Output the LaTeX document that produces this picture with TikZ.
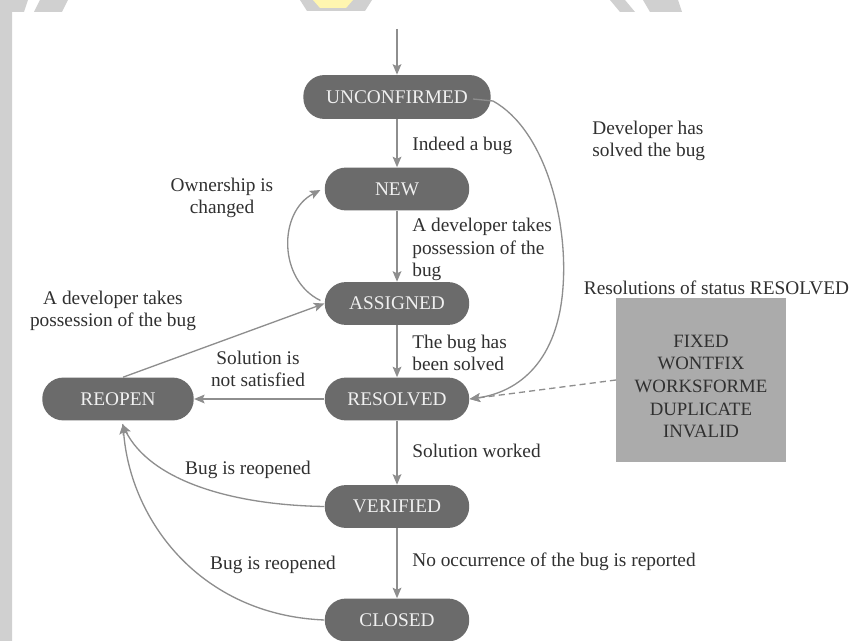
\documentclass[tikz,border=0pt]{standalone}
\usepackage{fontspec}
\setmainfont{Liberation Serif}
\usetikzlibrary{arrows.meta,calc}

\definecolor{statefill}{HTML}{6B6B6B}
\definecolor{statetext}{HTML}{F0F0F0}
\definecolor{labelcol}{HTML}{303030}
\definecolor{linecol}{HTML}{8E8E8E}
\definecolor{boxfill}{HTML}{ABABAB}
\definecolor{markgrey}{HTML}{D0D0D0}
\definecolor{markyellow}{HTML}{FFF6B0}

\tikzset{
  state/.style={fill=statefill, text=statetext, rounded corners=12pt,
    minimum height=24.4pt, minimum width=82.2pt, inner sep=0pt,
    font=\fontsize{11}{13}\selectfont},
  lbl/.style={text=labelcol, inner sep=0pt, font=\fontsize{11}{12.6}\selectfont},
  edge/.style={draw=linecol, line width=0.75pt,
    -{Stealth[length=6pt,width=5pt,inset=1.2pt]}},
}

\begin{document}
\begin{tikzpicture}[x=0.02cm, y=-0.02cm]
  % page frame
  \fill[white] (0,0) rectangle (857,641);
  \useasboundingbox (0,0) rectangle (857,641);

  % faint marks along the top and left edges
  \fill[markgrey] (0,0) -- (28,0) -- (24,12) -- (12,12) -- (12,641) -- (0,641) -- cycle;
  \fill[markgrey] (40,0) -- (68,0) -- (62,12) -- (34,12) -- cycle;
  \fill[markgrey] (300,0) -- (372,0) -- (365,11) -- (307,11) -- cycle;
  \fill[markyellow] (313,0) -- (353,0) -- (346,8) -- (320,8) -- cycle;
  \fill[markgrey] (327,0) arc[start angle=180, end angle=360, radius=8];
  \fill[markgrey] (610,0) -- (625,0) -- (635,12) -- (620,12) -- cycle;
  \fill[markgrey] (643,0) -- (678,0) -- (682,12) -- (650,12) -- cycle;

  % states
  \node[state, minimum width=106.6pt, minimum height=25pt] (unc) at (397,97) {UNCONFIRMED};
  \node[state] (new) at (397,189) {NEW};
  \node[state] (asg) at (397,303.5) {ASSIGNED};
  \node[state] (res) at (397,399) {RESOLVED};
  \node[state, minimum width=86.2pt] (reo) at (118,399) {REOPEN};
  \node[state] (ver) at (397,506.5) {VERIFIED};
  \node[state] (clo) at (397,620) {CLOSED};

  % resolutions box
  \node[fill=boxfill, minimum width=96.4pt, minimum height=93pt, inner sep=0pt] (resbox) at (701,380) {};
  \node[lbl, align=center, font=\fontsize{10.7}{12.9}\selectfont] (restext) at (701,386.5)
    {FIXED\\WONTFIX\\WORKSFORME\\DUPLICATE\\INVALID};
  \node[lbl] (restitle) at (716.5,288) {Resolutions of status RESOLVED};

  % transitions
  \coordinate (entry) at (397,29);
  \draw[edge] (entry) -- (unc.north);
  \draw[edge] (unc.south) -- (new.north);
  \draw[edge] (new.south) -- (asg.north);
  \draw[edge] (asg.south) -- (res.north);
  \draw[edge] (res.south) -- (ver.north);
  \draw[edge] (ver.south) -- (clo.north);
  \draw[edge] (res.west) -- (reo.east);
  \draw[edge] ($(reo.north)+(5,0)$) -- (asg.west);
  \draw[edge] ($(asg.west)+(-4,-3)$) .. controls (278,280) and (278,212) .. ($(new.west)+(-4,1)$);
  \draw[edge] ($(unc.east)+(-18,2)$) -- ($(unc.east)+(2,4)$)
    .. controls (545,130) and (568,220) .. (563,287)
    .. controls (558,360) and (520,392) .. (res.east);
  \draw[edge, dash pattern=on 3.5pt off 2.3pt] (resbox.west) -- (res.east);
  \draw[edge] (ver.west) .. controls (230,505) and (150,480) .. ($(reo.south)+(4,3)$);
  \draw[edge] (clo.west) .. controls (200,615) and (130,520) .. ($(reo.south)+(5,3)$);

  % transition labels
  \node[lbl, anchor=west] (l1) at (412,146) {Indeed a bug};
  \node[lbl, anchor=west, align=left] (l2) at (412,249.5) {A developer takes\\possession of the\\bug};
  \node[lbl, anchor=west, align=left] (l3) at (412,353) {The bug has\\been solved};
  \node[lbl, anchor=west] (l4) at (412,451) {Solution worked};
  \node[lbl, anchor=west] (l5) at (412,562) {No occurrence of the bug is reported};
  \node[lbl, anchor=west, align=left] (l6) at (592,141) {Developer has\\solved the bug};
  \node[lbl, align=center] (l7) at (222,198) {Ownership is\\changed};
  \node[lbl, align=center] (l8) at (113,311) {A developer takes\\possession of the bug};
  \node[lbl, align=center] (l9) at (258,369) {Solution is\\not satisfied};
  \node[lbl] (l10) at (248,470) {Bug is reopened};
  \node[lbl] (l11) at (273,565) {Bug is reopened};
\end{tikzpicture}
\end{document}
